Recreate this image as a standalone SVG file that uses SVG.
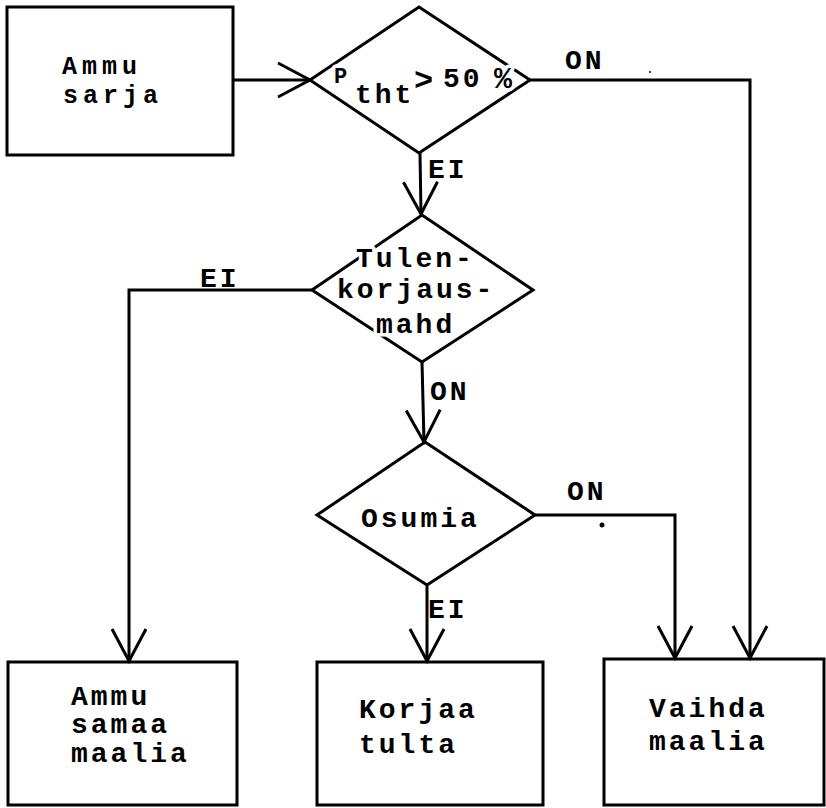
<svg xmlns="http://www.w3.org/2000/svg" width="826" height="808" viewBox="0 0 826 808">
<style>
.shape{fill:none;stroke:#000;stroke-width:3;stroke-linejoin:miter}
.conn{fill:none;stroke:#000;stroke-width:3}
.t{font-family:"Liberation Mono","Courier New",monospace;font-weight:bold;font-size:28px;letter-spacing:3px;fill:#000}
.s{font-size:25px;letter-spacing:5px}
.halo{paint-order:stroke;stroke:#fff;stroke-width:7px;stroke-linejoin:round}
</style>
<defs>
<marker id="arr" viewBox="-40 -20 44 40" markerWidth="44" markerHeight="40" refX="0" refY="0" orient="auto" markerUnits="userSpaceOnUse">
<path d="M-32,-17 L0,0 L-32,17" fill="none" stroke="#000" stroke-width="3"/>
</marker>
</defs>
<rect width="826" height="808" fill="#fff"/>
<g id="connectors">
<path class="conn" d="M233,80 L310,80" marker-end="url(#arr)"/>
<path class="conn" d="M530,80 L750,80 L750,658" marker-end="url(#arr)"/>
<path class="conn" d="M420,153 L421,214" marker-end="url(#arr)"/>
<path class="conn" d="M312,290 L129,290 L129,661" marker-end="url(#arr)"/>
<path class="conn" d="M422,362 L424,442" marker-end="url(#arr)"/>
<path class="conn" d="M535,515 L675,515 L675,658" marker-end="url(#arr)"/>
<path class="conn" d="M427,585 L427,661" marker-end="url(#arr)"/>
<text class="t" x="565" y="69">ON</text>
<text class="t" x="428" y="178">EI</text>
<text class="t" x="200" y="287">EI</text>
<text class="t" x="430" y="400">ON</text>
<text class="t" x="567" y="500">ON</text>
<text class="t" x="428" y="618">EI</text>
<circle cx="602" cy="525" r="2.5" fill="#000"/>
<circle cx="650" cy="72" r="1" fill="#000"/>
</g>
<g id="start">
<rect class="shape" x="7" y="7" width="226" height="148"/>
<text class="t s" x="62" y="74">Ammu</text>
<text class="t s" x="63" y="103">sarja</text>
</g>
<g id="d1">
<path class="shape" d="M310,80 L419,7 L530,80 L419,153 Z"/>
<text class="t halo" x="334" y="83" style="font-size:22px">P</text>
<text class="t halo" x="355" y="103">tht</text>
<text class="t halo" x="414" y="90" style="font-size:32px">&gt;</text>
<text class="t halo" x="443" y="87">50</text>
<text class="t halo" x="494" y="88" style="font-size:30px">%</text>
</g>
<g id="d2">
<path class="shape" d="M422,215 L533,290 L422,362 L312,290 Z"/>
<text class="t halo" x="356" y="267">Tulen-</text>
<text class="t halo" x="337" y="298">korjaus-</text>
<text class="t halo" x="376" y="333">mahd</text>
</g>
<g id="d3">
<path class="shape" d="M425,442 L535,515 L427,585 L317,515 Z"/>
<text class="t" x="361" y="527">Osumia</text>
</g>
<g id="boxA">
<rect class="shape" x="8" y="662" width="229" height="143"/>
<text class="t" x="71" y="705">Ammu</text>
<text class="t" x="71" y="733">samaa</text>
<text class="t" x="71" y="762">maalia</text>
</g>
<g id="boxB">
<rect class="shape" x="317" y="662" width="226" height="143"/>
<text class="t" x="359" y="718">Korjaa</text>
<text class="t" x="359" y="753">tulta</text>
</g>
<g id="boxC">
<rect class="shape" x="604" y="659" width="220" height="146"/>
<text class="t" x="649" y="717">Vaihda</text>
<text class="t" x="649" y="750">maalia</text>
</g>
</svg>
